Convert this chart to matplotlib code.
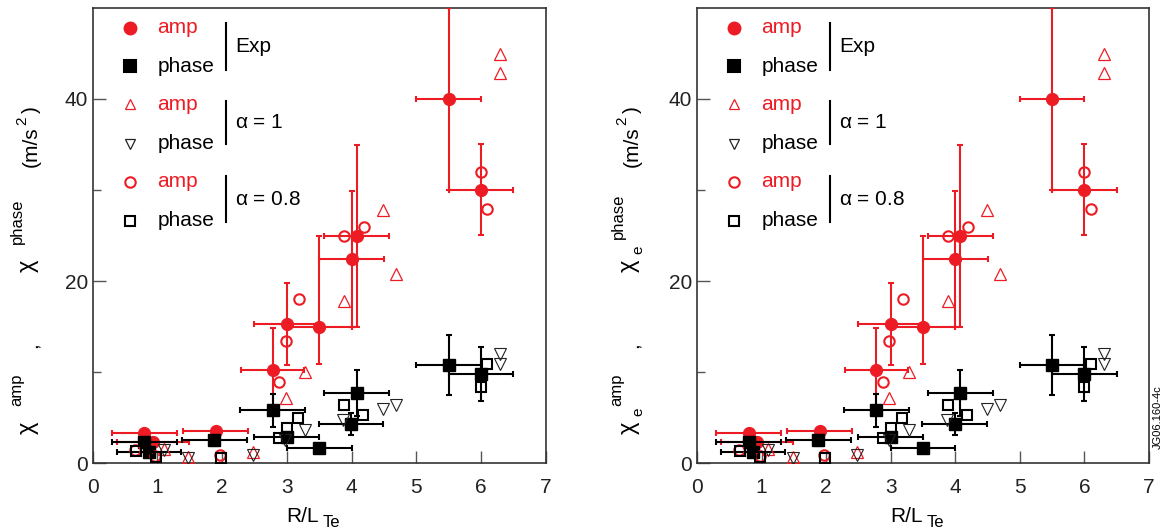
import matplotlib
matplotlib.use("Agg")
import matplotlib.pyplot as plt
import numpy as np

plt.rcParams['font.family'] = ['Liberation Sans', 'DejaVu Sans']
plt.rcParams['mathtext.fontset'] = 'custom'
plt.rcParams['mathtext.rm'] = 'Liberation Sans'
plt.rcParams['mathtext.it'] = 'Liberation Sans:italic'
plt.rcParams['mathtext.default'] = 'rm'

RED = '#ED1C24'

# Experimental amplitude (red filled circles)
exp_amp_x = [0.8, 0.93, 1.9, 2.78, 3.0, 3.5, 4.0, 4.08, 5.5, 6.0]
exp_amp_y = [3.3, 2.3, 3.5, 10.2, 15.3, 14.9, 22.4, 24.9, 40.0, 30.0]
exp_amp_xerr = [0.5, 0.56, 0.5, 0.49, 0.5, 0.5, 0.5, 0.5, 0.5, 0.5]
exp_amp_yerr_lo = [0.2, 0.2, 0.3, 4.6, 4.5, 4.05, 7.5, 10.0, 10.0, 5.0]
exp_amp_yerr_hi = [0.2, 0.2, 0.3, 4.6, 4.5, 10.0, 7.5, 10.0, 10.0, 5.0]

# Experimental phase (black filled squares)
exp_ph_x = [0.8, 0.87, 1.88, 2.78, 3.0, 3.5, 3.99, 4.08, 5.5, 6.0]
exp_ph_y = [2.3, 1.2, 2.5, 5.8, 2.85, 1.7, 4.3, 7.7, 10.8, 9.8]
exp_ph_xerr = [0.5, 0.5, 0.5, 0.5, 0.5, 0.5, 0.5, 0.5, 0.5, 0.5]
exp_ph_yerr = [0.3, 0.3, 0.6, 1.8, 0.5, 0.3, 1.2, 2.5, 3.3, 3.0]

# Model alpha = 1
a1_amp_x = [1.1, 1.48, 2.48, 2.98, 3.28, 3.88, 4.49, 4.69, 6.3, 6.3]
a1_amp_y = [1.5, 0.7, 1.2, 7.1, 10.0, 17.8, 27.8, 20.8, 42.9, 44.9]
a1_ph_x = [1.1, 1.48, 2.48, 2.97, 3.28, 3.87, 4.49, 4.69, 6.3, 6.3]
a1_ph_y = [1.45, 0.6, 0.85, 2.5, 3.6, 4.7, 5.9, 6.35, 10.85, 11.95]

# Model alpha = 0.8
a08_amp_x = [0.65, 0.97, 1.97, 2.88, 2.98, 3.19, 3.89, 4.19, 6.0, 6.1]
a08_amp_y = [1.4, 0.8, 0.83, 8.93, 13.46, 18.07, 24.95, 25.9, 32.0, 27.9]
a08_ph_x = [0.67, 0.98, 1.98, 2.88, 3.0, 3.18, 3.89, 4.18, 6.0, 6.1]
a08_ph_y = [1.3, 0.7, 0.6, 2.7, 3.8, 4.95, 6.35, 5.3, 8.3, 10.85]

x_ticks = [0, 1, 2, 3, 4, 5, 6, 7]
y_ticks = [0, 20, 40]

W, H = 1169, 531
fig = plt.figure(figsize=(W / 100, H / 100), dpi=100)
ax1 = fig.add_axes([0.0793, 0.128, 0.3875, 0.857])
ax2 = fig.add_axes([0.5962, 0.128, 0.3867, 0.857])

FS = 15


def draw(ax):
    ax.errorbar(exp_amp_x, exp_amp_y, xerr=exp_amp_xerr,
                yerr=[exp_amp_yerr_lo, exp_amp_yerr_hi], fmt='o', color=RED,
                ms=8.5, elinewidth=1.5, capsize=2.5, capthick=1.5, zorder=3)
    ax.errorbar(exp_ph_x, exp_ph_y, xerr=exp_ph_xerr, yerr=exp_ph_yerr,
                fmt='s', color='black', ms=8.5, elinewidth=1.5, capsize=2.5,
                capthick=1.5, zorder=4)
    ax.plot(a1_amp_x, a1_amp_y, '^', ms=8, mfc='none', mec=RED, mew=0.9, zorder=5)
    ax.plot(a1_ph_x, a1_ph_y, 'v', ms=8, mfc='none', mec='#222222', mew=0.8, zorder=5)
    ax.plot(a08_amp_x, a08_amp_y, 'o', ms=7.5, mfc='none', mec=RED, mew=1.5, zorder=5)
    ax.plot(a08_ph_x, a08_ph_y, 's', ms=7.5, mfc='none', mec='black', mew=1.5, zorder=5)

    ax.set_xlim(0, 7)
    ax.set_ylim(0, 50)
    ax.set_xticks(x_ticks)
    ax.set_yticks(y_ticks)
    ax.set_yticks([10, 30], minor=True)
    ax.tick_params(axis='both', which='major', direction='in', length=9,
                   width=1, color='#555555', labelsize=FS, labelcolor='#222222')
    ax.tick_params(axis='y', which='minor', direction='in', length=6,
                   width=1, color='#555555')
    ax.tick_params(axis='x', pad=11)
    for s in ax.spines.values():
        s.set_color('#333333')
        s.set_linewidth(1.2)

    rows = [(47.8, 'o', RED, RED, 'amp'), (43.6, 's', 'black', 'black', 'phase'),
            (39.4, '^', 'none', RED, 'amp'), (35.1, 'v', 'none', '#222222', 'phase'),
            (30.9, 'o', 'none', RED, 'amp'), (26.6, 's', 'none', 'black', 'phase')]
    for y, m, fc, ec, lab in rows:
        ms = 8.5 if fc != 'none' else 7.5
        mew = 1.5 if m in 'os' else 0.9
        ax.plot([0.57], [y], m, ms=ms, mfc=fc, mec=ec, mew=mew, clip_on=False)
        ax.text(1.0, y, lab, color=RED if lab == 'amp' else 'black',
                fontsize=FS, va='center', ha='left')
    groups = [(48.3, 43.2, 'Exp'), (39.8, 35.0, r'$\alpha$ = 1'), (31.5, 26.5, r'$\alpha$ = 0.8')]
    for top, bot, lab in groups:
        ax.plot([2.06, 2.06], [bot, top], color='black', lw=1.5)
        ax.text(2.2, (top + bot) / 2, lab, fontsize=FS, va='center', ha='left')

    ax.text(3.5, -0.13, 'R/L', transform=ax.get_xaxis_transform(), fontsize=FS,
            ha='right', va='baseline')
    ax.text(3.55, -0.14, 'Te', transform=ax.get_xaxis_transform(), fontsize=12,
            ha='left', va='baseline')


draw(ax1)
draw(ax2)


def ftext(px, py, s, fs=FS):
    fig.text(px / W, 1 - py / H, s, rotation=90, fontsize=fs, ha='center', va='center')


# left y-label pieces (pixel positions)
ftext(30, 428, r'$\chi$', 17)
ftext(17, 390, 'amp', 12)
ftext(31, 345, ',', FS)
ftext(30, 266, r'$\chi$', 17)
ftext(17, 221, 'phase', 12)
ftext(31, 147, '(m/s', FS)
ftext(22, 121, '2', 11)
ftext(31, 110, ')', FS)

# right y-label pieces
ftext(631, 428, r'$\chi$', 17)
ftext(638, 412, 'e', 11)
ftext(617, 390, 'amp', 12)
ftext(632, 345, ',', FS)
ftext(631, 266, r'$\chi$', 17)
ftext(638, 250, 'e', 11)
ftext(618, 216, 'phase', 12)
ftext(632, 147, '(m/s', FS)
ftext(622, 121, '2', 11)
ftext(632, 110, ')', FS)

fig.text(0.990, 0.215, 'JG06.160-4c', rotation=90, fontsize=8, ha='center', va='center')

fig.savefig('out.png', dpi=100)
